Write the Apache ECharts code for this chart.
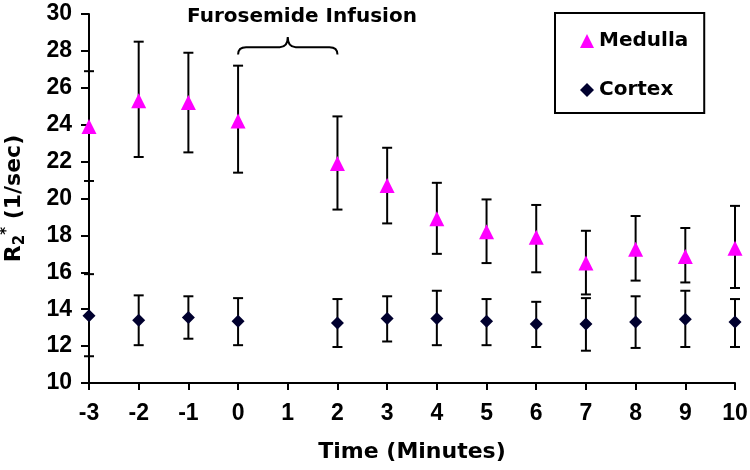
<!DOCTYPE html>
<html>
<head>
<meta charset="utf-8">
<script src="https://cdn.jsdelivr.net/npm/echarts@6/dist/echarts.min.js"></script>
<style>
  html, body { margin: 0; padding: 0; background: #fff; }
  #chart { width: 750px; height: 470px; }
</style>
</head>
<body>
<div id="chart"></div>
<script>
  // time points (minutes), no sample at 1
  const times = [-3, -2, -1, 0, 2, 3, 4, 5, 6, 7, 8, 9, 10];

  const medulla     = [23.9, 25.3, 25.2, 24.2, 21.9, 20.7, 18.9, 18.2, 17.9, 16.5, 17.25, 16.85, 17.3];
  const medullaHigh = [26.9, 28.5, 27.9, 27.2, 24.45, 22.75, 20.85, 19.95, 19.65, 18.25, 19.05, 18.4, 19.6];
  const medullaLow  = [20.95, 22.25, 22.5, 21.4, 19.4, 18.65, 17.0, 16.5, 16.0, 14.8, 15.55, 15.45, 15.15];

  const cortex     = [13.65, 13.4, 13.55, 13.35, 13.25, 13.5, 13.5, 13.35, 13.2, 13.2, 13.3, 13.45, 13.3];
  const cortexHigh = [15.9, 14.75, 14.7, 14.6, 14.55, 14.7, 15.0, 14.55, 14.4, 14.6, 14.7, 15.0, 14.55];
  const cortexLow  = [11.45, 12.05, 12.4, 12.05, 11.95, 12.25, 12.05, 12.05, 11.95, 11.75, 11.9, 11.95, 11.95];

  // infusion bracket: from x, to x, end y, bar y, peak y
  const bracket = [[0, 2, 27.8, 28.2, 28.75]];

  const font = 'Liberation Sans, Arial, sans-serif';
  const wide = 'DejaVu Sans, Verdana, sans-serif';

  function pairs(vals) {
    return times.map((t, i) => [t, vals[i]]);
  }
  function ranges(hi, lo) {
    return times.map((t, i) => [t, hi[i], lo[i]]);
  }

  // vertical error bar with caps
  function renderError(params, api) {
    const x = api.value(0);
    const top = api.coord([x, api.value(1)]);
    const bot = api.coord([x, api.value(2)]);
    const w = 5;
    const st = { stroke: '#000', lineWidth: 2 };
    return {
      type: 'group',
      children: [
        { type: 'line', shape: { x1: top[0], y1: top[1], x2: bot[0], y2: bot[1] }, style: st },
        { type: 'line', shape: { x1: top[0] - w, y1: top[1], x2: top[0] + w, y2: top[1] }, style: st },
        { type: 'line', shape: { x1: bot[0] - w, y1: bot[1], x2: bot[0] + w, y2: bot[1] }, style: st }
      ]
    };
  }

  function renderBracket(params, api) {
    const a = api.coord([api.value(0), api.value(2)]);
    const b = api.coord([api.value(1), api.value(2)]);
    const yb = api.coord([0, api.value(3)])[1];
    const yp = api.coord([0, api.value(4)])[1];
    const xm = (a[0] + b[0]) / 2;
    const r = 8;
    const d = 'M' + a[0] + ' ' + a[1] +
      ' Q' + a[0] + ' ' + yb + ' ' + (a[0] + r) + ' ' + yb +
      ' L' + (xm - r) + ' ' + yb +
      ' Q' + xm + ' ' + yb + ' ' + xm + ' ' + yp +
      ' Q' + xm + ' ' + yb + ' ' + (xm + r) + ' ' + yb +
      ' L' + (b[0] - r) + ' ' + yb +
      ' Q' + b[0] + ' ' + yb + ' ' + b[0] + ' ' + b[1];
    return {
      type: 'path',
      shape: { pathData: d },
      style: { fill: 'none', stroke: '#000', lineWidth: 2 }
    };
  }

  const chart = echarts.init(document.getElementById('chart'));
  chart.setOption({
    animation: false,
    title: {
      text: 'Furosemide Infusion',
      left: 187,
      top: 7,
      padding: 0,
      textStyle: { fontFamily: wide, fontSize: 20, fontWeight: 'bold', color: '#000' }
    },
    legend: {
      orient: 'vertical',
      left: 555,
      top: 13,
      padding: [18, 16, 13, 25],
      itemGap: 29,
      itemWidth: 14,
      itemHeight: 14,
      borderColor: '#000',
      borderWidth: 2,
      data: [{ name: 'Medulla', icon: 'triangle' }, { name: 'Cortex', icon: 'diamond' }],
      textStyle: { fontFamily: wide, fontSize: 20, fontWeight: 'bold', color: '#000' }
    },
    grid: { left: 89, right: 15, top: 14, bottom: 87, outerBoundsMode: 'none' },
    xAxis: {
      type: 'value',
      min: -3,
      max: 10,
      interval: 1,
      name: 'Time (Minutes)',
      nameLocation: 'middle',
      nameGap: 58,
      nameTextStyle: { fontFamily: wide, fontSize: 22, fontWeight: 'bold', color: '#000' },
      splitLine: { show: false },
      axisLine: { onZero: false, lineStyle: { color: '#000', width: 2 } },
      axisTick: { length: 7, lineStyle: { color: '#000', width: 2 } },
      axisLabel: { margin: 19, fontFamily: font, fontSize: 23, fontWeight: 'bold', color: '#000' }
    },
    yAxis: {
      type: 'value',
      min: 10,
      max: 30,
      interval: 2,
      name: '{m|R}{sub|2}{sup|*}{m| (1/sec)}',
      nameLocation: 'middle',
      nameGap: 61,
      nameRotate: 90,
      nameTextStyle: {
        rich: {
          m: { fontFamily: wide, fontSize: 22, fontWeight: 'bold', color: '#000', lineHeight: 28 },
          sub: { fontFamily: wide, fontSize: 15, fontWeight: 'bold', color: '#000', verticalAlign: 'bottom', lineHeight: 28 },
          sup: { fontFamily: wide, fontSize: 15, fontWeight: 'bold', color: '#000', verticalAlign: 'top', lineHeight: 28 }
        }
      },
      splitLine: { show: false },
      axisLine: { show: true, onZero: false, lineStyle: { color: '#000', width: 2 } },
      axisTick: { show: true, length: 8, lineStyle: { color: '#000', width: 2 } },
      axisLabel: { margin: 17, fontFamily: font, fontSize: 23, fontWeight: 'bold', color: '#000' }
    },
    series: [
      {
        type: 'custom',
        name: 'medullaErr',
        renderItem: renderError,
        data: ranges(medullaHigh, medullaLow),
        z: 2,
        silent: true
      },
      {
        type: 'custom',
        name: 'cortexErr',
        renderItem: renderError,
        data: ranges(cortexHigh, cortexLow),
        z: 2,
        silent: true
      },
      {
        type: 'custom',
        name: 'bracket',
        renderItem: renderBracket,
        data: bracket,
        clip: false,
        silent: true
      },
      {
        type: 'scatter',
        name: 'Medulla',
        symbol: 'triangle',
        symbolSize: 15,
        itemStyle: { color: '#ff00ff', opacity: 1 },
        data: pairs(medulla),
        z: 5
      },
      {
        type: 'scatter',
        name: 'Cortex',
        symbol: 'diamond',
        symbolSize: 13,
        itemStyle: { color: '#00002e', opacity: 1 },
        data: pairs(cortex),
        z: 5
      }
    ]
  });
</script>
</body>
</html>
